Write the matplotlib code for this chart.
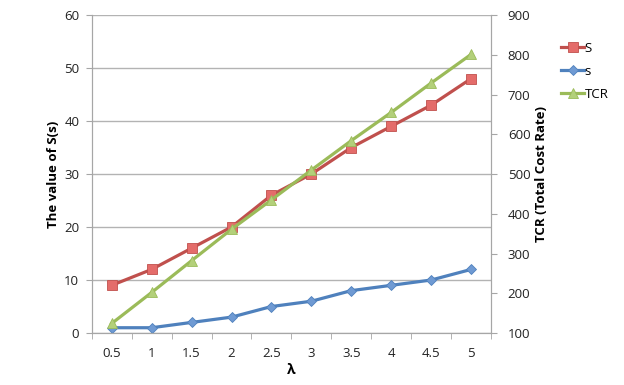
import matplotlib
matplotlib.use("Agg")
import matplotlib.pyplot as plt
import numpy as np

plt.rcParams['font.family'] = ['Open Sans', 'DejaVu Sans']

lam = ["0.5", "1", "1.5", "2", "2.5", "3", "3.5", "4", "4.5", "5"]
S_big = [9, 12, 16, 20, 26, 30, 35, 39, 43, 48]
s_small = [1, 1, 2, 3, 5, 6, 8, 9, 10, 12]
tcr = [124, 202, 282, 361, 435, 510, 584, 655, 729, 801]

red = "#C0504D"
blue = "#4F81BD"
green = "#9BBB59"
axcol = "#a6a6a6"

fig = plt.figure(figsize=(6.24, 3.85), dpi=100)
ax = fig.add_axes([0.147, 0.135, 0.64, 0.826])
ax2 = ax.twinx()

x = np.arange(len(lam))
l1, = ax.plot(x, S_big, color=red, lw=2.3, marker="s", ms=6.5,
              mfc="#E46C6A", mec=red, mew=0.6, label="S")
l2, = ax.plot(x, s_small, color=blue, lw=2.3, marker="D", ms=5,
              mfc="#6F9AD3", mec=blue, mew=0.6, label="s")
l3, = ax2.plot(x, tcr, color=green, lw=2.3, marker="^", ms=7,
               mfc="#B3D07A", mec=green, mew=0.6, label="TCR")

ax.set_xlim(-0.5, len(lam) - 0.5)
ax.set_ylim(0, 60)
ax.set_yticks(range(0, 61, 10))
ax2.set_ylim(100, 900)
ax2.set_yticks(range(100, 901, 100))

ax.set_xticks(x)
ax.set_xticklabels(lam)
ax.set_xticks(np.arange(-0.5, len(lam), 1), minor=True)
ax.tick_params(axis="x", which="major", length=0, pad=10, labelsize=9.5, colors="#222222")
ax.tick_params(axis="x", which="minor", length=4, direction="out", color=axcol)
ax.tick_params(axis="y", length=4, direction="out", color=axcol, labelsize=9.5, labelcolor="#222222", pad=5)
ax2.tick_params(axis="y", length=4, direction="out", color=axcol, labelsize=9.5, labelcolor="#222222", pad=8)

ax.grid(axis="y", color="#b3b3b3", lw=1)
ax.set_axisbelow(True)
for a in (ax, ax2):
    a.spines["top"].set_visible(False)
    a.spines["left"].set_color(axcol)
    a.spines["right"].set_color(axcol)
    a.spines["bottom"].set_color(axcol)

ax.set_xlabel("λ", fontsize=10, fontweight="bold", labelpad=2)
ax.set_ylabel("The value of S(s)", fontsize=9.5, fontweight="bold", labelpad=3)
ax2.set_ylabel("TCR (Total Cost Rate)", fontsize=9.5, fontweight="bold", labelpad=3)

fig.legend(handles=[l1, l2, l3], loc="upper left", bbox_to_anchor=(0.89, 0.905),
           frameon=False, fontsize=9.5, handlelength=1.8, handletextpad=0.0,
           labelspacing=0.75, borderaxespad=0)

fig.savefig("out.png", dpi=100)
